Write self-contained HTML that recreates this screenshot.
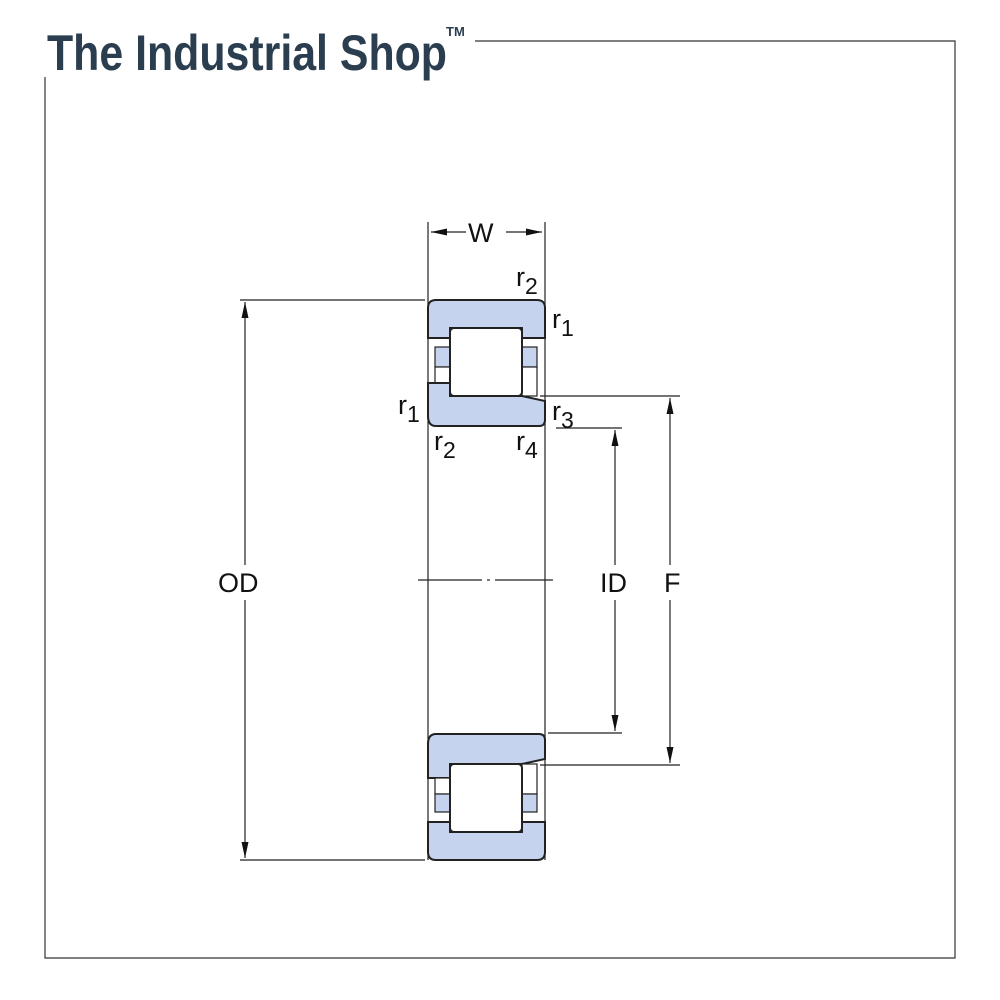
<!DOCTYPE html>
<html><head><meta charset="utf-8"><style>body{margin:0;background:#fff}svg{display:block}</style></head>
<body>
<svg width="1000" height="1000" viewBox="0 0 1000 1000" xmlns="http://www.w3.org/2000/svg" font-family="Liberation Sans, sans-serif">
<defs>
<marker id="a" viewBox="0 0 16 10" refX="16" refY="5" markerWidth="16" markerHeight="10" orient="auto-start-reverse" markerUnits="userSpaceOnUse"><path d="M0,1.5 L16,5 L0,8.5 z" fill="#111"/></marker>
</defs>
<path d="M475,41 H955 V958 H45 V77" fill="none" stroke="#333" stroke-width="1.2"/>
<text x="47" y="70" font-size="50" font-weight="bold" fill="#2b3e50" textLength="400" lengthAdjust="spacingAndGlyphs">The Industrial Shop</text>
<text x="446" y="36" font-size="13" font-weight="bold" fill="#2b3e50">TM</text>

<g stroke="#222" stroke-width="1.2" fill="none">
<line x1="428" y1="222" x2="428" y2="860"/>
<line x1="545" y1="222" x2="545" y2="860"/>
<line x1="431" y1="232" x2="466" y2="232" marker-start="url(#a)"/>
<line x1="506" y1="232" x2="542" y2="232" marker-end="url(#a)"/>
<line x1="240" y1="300" x2="425" y2="300"/>
<line x1="240" y1="860" x2="425" y2="860"/>
<line x1="245" y1="302" x2="245" y2="565" marker-start="url(#a)"/>
<line x1="245" y1="600" x2="245" y2="858" marker-end="url(#a)"/>
<line x1="540" y1="396" x2="680" y2="396"/>
<line x1="540" y1="765" x2="680" y2="765"/>
<line x1="670" y1="398" x2="670" y2="565" marker-start="url(#a)"/>
<line x1="670" y1="600" x2="670" y2="763" marker-end="url(#a)"/>
<line x1="556" y1="428" x2="622" y2="428"/>
<line x1="548" y1="733" x2="622" y2="733"/>
<line x1="615" y1="430" x2="615" y2="565" marker-start="url(#a)"/>
<line x1="615" y1="600" x2="615" y2="731" marker-end="url(#a)"/>
<line x1="418" y1="580" x2="482" y2="580"/>
<line x1="487" y1="580" x2="490" y2="580"/>
<line x1="495" y1="580" x2="553" y2="580"/>
</g>

<g stroke="#222" stroke-width="2" fill="#c5d3ef">
<path d="M436,300 H537 Q545,300 545,308 V338 H522 V328 H450 V338 H428 V308 Q428,300 436,300 Z"/>
<rect x="435" y="347" width="15" height="20" stroke-width="1.2"/>
<rect x="522" y="347" width="15" height="20" stroke-width="1.2"/>
<rect x="435" y="367" width="15" height="16" fill="#fff" stroke-width="1.2"/>
<rect x="522" y="367" width="15" height="29" fill="#fff" stroke-width="1.2"/>
<rect x="450" y="328" width="72" height="68" rx="4" fill="#fff"/>
<path d="M428,383 H450 V396 H522 L545,401 V420 Q545,426 539,426 H436 Q428,426 428,416 Z"/>
<path d="M436,734 H539 Q545,734 545,740 V759 L522,764 H450 V778 H428 V744 Q428,734 436,734 Z"/>
<rect x="435" y="778" width="15" height="16" fill="#fff" stroke-width="1.2"/>
<rect x="522" y="764" width="15" height="30" fill="#fff" stroke-width="1.2"/>
<rect x="435" y="794" width="15" height="18" stroke-width="1.2"/>
<rect x="522" y="794" width="15" height="18" stroke-width="1.2"/>
<path d="M428,822 H450 V832 H522 V822 H545 V852 Q545,860 537,860 H436 Q428,860 428,852 Z"/>
<rect x="450" y="764" width="72" height="68" rx="4" fill="#fff"/>
</g>

<g fill="#111" font-size="27">
<text x="468" y="242">W</text>
<text x="218" y="592">OD</text>
<text x="600" y="592">ID</text>
<text x="664" y="592">F</text>
<text x="516" y="286">r<tspan font-size="23" dy="8">2</tspan></text>
<text x="552" y="328">r<tspan font-size="23" dy="8">1</tspan></text>
<text x="398" y="414">r<tspan font-size="23" dy="8">1</tspan></text>
<text x="552" y="420">r<tspan font-size="23" dy="8">3</tspan></text>
<text x="434" y="450">r<tspan font-size="23" dy="8">2</tspan></text>
<text x="516" y="450">r<tspan font-size="23" dy="8">4</tspan></text>
</g>
</svg>
</body></html>
